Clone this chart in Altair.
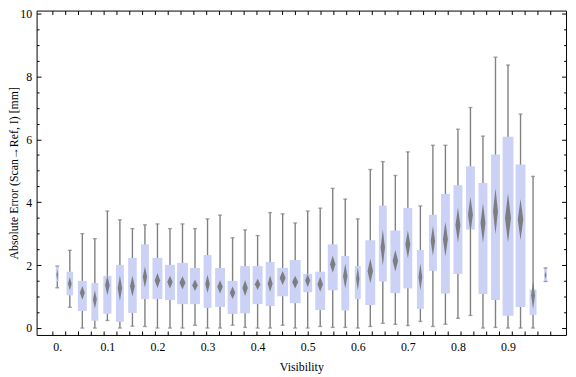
import altair as alt
import pandas as pd

# ---------------- data ----------------
visibility = [0.000, 0.025, 0.050, 0.075, 0.100, 0.125, 0.150, 0.175, 0.200, 0.225,
              0.250, 0.275, 0.300, 0.325, 0.350, 0.375, 0.400, 0.425, 0.450, 0.475,
              0.500, 0.525, 0.550, 0.575, 0.600, 0.625, 0.650, 0.675, 0.700, 0.725,
              0.750, 0.775, 0.800, 0.825, 0.850, 0.875, 0.900, 0.925, 0.950, 0.975]
whisker_low = [1.28, 0.66, 0.00, 0.00, 0.24, 0.00, 0.06, 0.05, 0.00, 0.00,
               0.00, 0.09, 0.00, 0.00, 0.09, 0.02, 0.00, 0.00, 0.09, 0.00,
               0.00, 0.05, 0.02, 0.02, 0.00, 0.05, 0.15, 0.12, 0.08, 0.21,
               0.05, 0.12, 0.31, 0.40, 0.00, 0.02, 0.00, 0.00, 0.00, 1.48]
quartile_1 = [1.48, 1.04, 0.54, 0.23, 0.45, 0.20, 0.48, 0.92, 0.92, 0.89,
              0.76, 0.76, 0.64, 0.67, 0.45, 0.47, 0.76, 0.70, 1.01, 0.79,
              1.14, 0.57, 1.20, 0.56, 0.92, 0.73, 1.48, 1.11, 1.26, 0.61,
              1.82, 1.10, 1.72, 3.13, 1.08, 0.89, 0.39, 0.67, 0.42, 1.48]
quartile_3 = [1.97, 1.79, 1.50, 1.43, 1.66, 2.00, 2.23, 2.66, 2.23, 2.01,
              2.07, 1.91, 2.32, 1.91, 1.50, 1.97, 1.97, 2.10, 1.91, 2.16,
              1.72, 1.79, 2.66, 2.29, 1.97, 2.79, 3.89, 3.10, 3.82, 2.48,
              3.60, 4.26, 4.54, 5.14, 4.61, 5.52, 6.08, 5.20, 1.22, 1.88]
whisker_high = [1.97, 2.47, 3.00, 2.84, 3.72, 3.44, 3.16, 3.28, 3.31, 3.16,
                3.31, 3.16, 3.47, 3.59, 2.87, 3.12, 2.94, 3.67, 3.63, 3.34,
                3.72, 3.81, 4.44, 4.10, 3.47, 5.04, 5.29, 4.85, 5.60, 3.88,
                5.81, 5.81, 6.32, 7.01, 6.10, 8.61, 8.36, 6.80, 4.82, 1.91]
mean_value = [1.69, 1.41, 1.12, 0.91, 1.36, 1.27, 1.33, 1.62, 1.51, 1.46,
              1.44, 1.36, 1.40, 1.31, 1.12, 1.27, 1.39, 1.41, 1.59, 1.46,
              1.51, 1.39, 2.03, 1.65, 1.57, 1.81, 2.56, 2.14, 2.66, 1.62,
              2.77, 2.82, 3.27, 3.60, 3.34, 3.71, 3.50, 3.45, 1.04, 1.68]
mean_ci = [0.18, 0.21, 0.22, 0.29, 0.32, 0.40, 0.33, 0.34, 0.24, 0.20,
           0.21, 0.18, 0.29, 0.21, 0.20, 0.25, 0.18, 0.26, 0.22, 0.20,
           0.21, 0.24, 0.27, 0.39, 0.37, 0.39, 0.57, 0.34, 0.44, 0.42,
           0.47, 0.55, 0.55, 0.57, 0.63, 0.73, 0.78, 0.65, 0.44, 0.12]
# relative sample weight (drives the box width)
rel_weight = [0.27, 0.61, 0.82, 0.64, 0.75, 0.73, 0.79, 0.73, 0.91, 0.91,
              1.00, 0.91, 0.73, 0.91, 0.91, 0.91, 0.91, 0.82, 1.00, 1.00,
              0.82, 0.91, 0.91, 0.73, 0.55, 0.91, 0.73, 0.91, 0.82, 0.64,
              0.73, 0.82, 0.82, 0.82, 0.82, 0.82, 1.00, 0.91, 0.64, 0.27]
x_label_values = [0.0, 0.1, 0.2, 0.3, 0.4, 0.5, 0.6, 0.7, 0.8, 0.9]
y_label_values = [0, 2, 4, 6, 8, 10]
y_tick_values = [0, 0.5, 1, 1.5, 2, 2.5, 3, 3.5, 4, 4.5, 5, 5.5, 6, 6.5, 7, 7.5,
                 8, 8.5, 9, 9.5, 10]

# ---------------- layout / style ----------------
W, H = 537, 329
X_DOM = [-0.0315, 1.006]
Y_DOM = [-0.22, 10.09]
MAX_BOX_PX = 11
PX_PER_X = W / (X_DOM[1] - X_DOM[0])
FONT = "Liberation Serif"
BOX_COL = "#cbd2f5"
WHISK_COL = "#808080"
DIAM_COL = "#747474"

xs = alt.Scale(domain=X_DOM, nice=False, zero=False)
ys = alt.Scale(domain=Y_DOM, nice=False, zero=False)

boxes = pd.DataFrame({
    "vis": visibility, "lo": whisker_low, "q1": quartile_1, "q3": quartile_3,
    "hi": whisker_high, "w": rel_weight,
})

caps = pd.DataFrame({
    "vis": visibility + visibility,
    "val": whisker_low + whisker_high,
})

rows = []
for i, (v, m, c, w) in enumerate(zip(visibility, mean_value, mean_ci, rel_weight)):
    hw = w * MAX_BOX_PX * 0.28 / PX_PER_X
    rows.append({"id": i, "yv": m - c, "xl": v, "xr": v})
    rows.append({"id": i, "yv": m, "xl": v - hw, "xr": v + hw})
    rows.append({"id": i, "yv": m + c, "xl": v, "xr": v})
diamonds = pd.DataFrame(rows)

label_expr = "datum.value == 0 ? '0.' : format(datum.value, '.1f')"

main_x_axis = alt.Axis(values=x_label_values, labelExpr=label_expr, ticks=False, tickSize=0,
                       domain=False, grid=False, labelPadding=7, labelFont=FONT,
                       labelFontSize=12, labelColor="black", title="Visibility",
                       titleFont=FONT, titleFontSize=12, titleFontWeight="normal",
                       titleColor="black", titleBaseline="alphabetic", titleY=36,
                       labelFlush=False)
main_y_axis = alt.Axis(values=y_label_values, format="d", ticks=False, tickSize=0,
                       domain=False, grid=False, labelPadding=5, labelFont=FONT,
                       labelFontSize=12, labelColor="black",
                       title="Absolute Error (Scan\u2192Ref, I) [mm]",
                       titleFont=FONT, titleFontSize=12, titleFontWeight="normal",
                       titleColor="black", titleBaseline="alphabetic", titleX=-19,
                       titleY=H / 2, titleAngle=270, labelFlush=False)

X = alt.X("vis:Q", scale=xs, axis=main_x_axis)

whiskers = alt.Chart(boxes).mark_rule(color=WHISK_COL, strokeWidth=1.4).encode(
    x=X, y=alt.Y("lo:Q", scale=ys, axis=main_y_axis), y2="hi:Q")
cap_marks = alt.Chart(caps).mark_tick(color=WHISK_COL, orient="horizontal", size=4,
                                      thickness=1.4).encode(
    x=alt.X("vis:Q", scale=xs), y=alt.Y("val:Q", scale=ys))
box_marks = alt.Chart(boxes).mark_bar(color=BOX_COL, opacity=1).encode(
    x=alt.X("vis:Q", scale=xs), y=alt.Y("q1:Q", scale=ys), y2="q3:Q",
    size=alt.Size("w:Q", scale=alt.Scale(domain=[0, 1], range=[0, MAX_BOX_PX]), legend=None))
diamond_marks = alt.Chart(diamonds).mark_area(orient="horizontal", color=DIAM_COL,
                                              opacity=0.9).encode(
    y=alt.Y("yv:Q", scale=ys), x=alt.X("xl:Q", scale=xs, stack=None), x2="xr:Q",
    detail="id:N")

data_layer = alt.layer(whiskers, box_marks, diamond_marks, cap_marks)

tick_size_y = {"condition": {"test": "datum.value % 2 == 0", "value": 4.5}, "value": 2.5}


def tick_axis(orient, offset, values, size):
    return alt.Axis(orient=orient, offset=offset, values=values, labels=False, domain=False,
                    grid=False, ticks=True, tickSize=size, tickColor="black", tickWidth=1,
                    title=None, zindex=1)


ticks_a = alt.Chart(boxes).mark_point(opacity=0).encode(
    x=alt.X("vis:Q", scale=xs, axis=tick_axis("top", -H, visibility, 4)),
    y=alt.Y("q1:Q", scale=ys, axis=tick_axis("right", -W, y_tick_values, tick_size_y)))
ticks_b = alt.Chart(boxes).mark_point(opacity=0).encode(
    x=alt.X("vis:Q", scale=xs, axis=tick_axis("bottom", -H, visibility, 4)),
    y=alt.Y("q1:Q", scale=ys, axis=tick_axis("left", -W, y_tick_values, tick_size_y)))

chart = alt.layer(data_layer, ticks_a, ticks_b).resolve_scale(
    x="independent", y="independent").resolve_axis(x="independent", y="independent").properties(
    width=W, height=H, autosize=alt.AutoSizeParams(type="none"),
    padding={"left": 29, "top": 0, "right": 2, "bottom": 40},
    background="white",
).configure_view(stroke="black", strokeWidth=1)

chart.save("out.html", embed_options={"renderer": "svg", "actions": False})
